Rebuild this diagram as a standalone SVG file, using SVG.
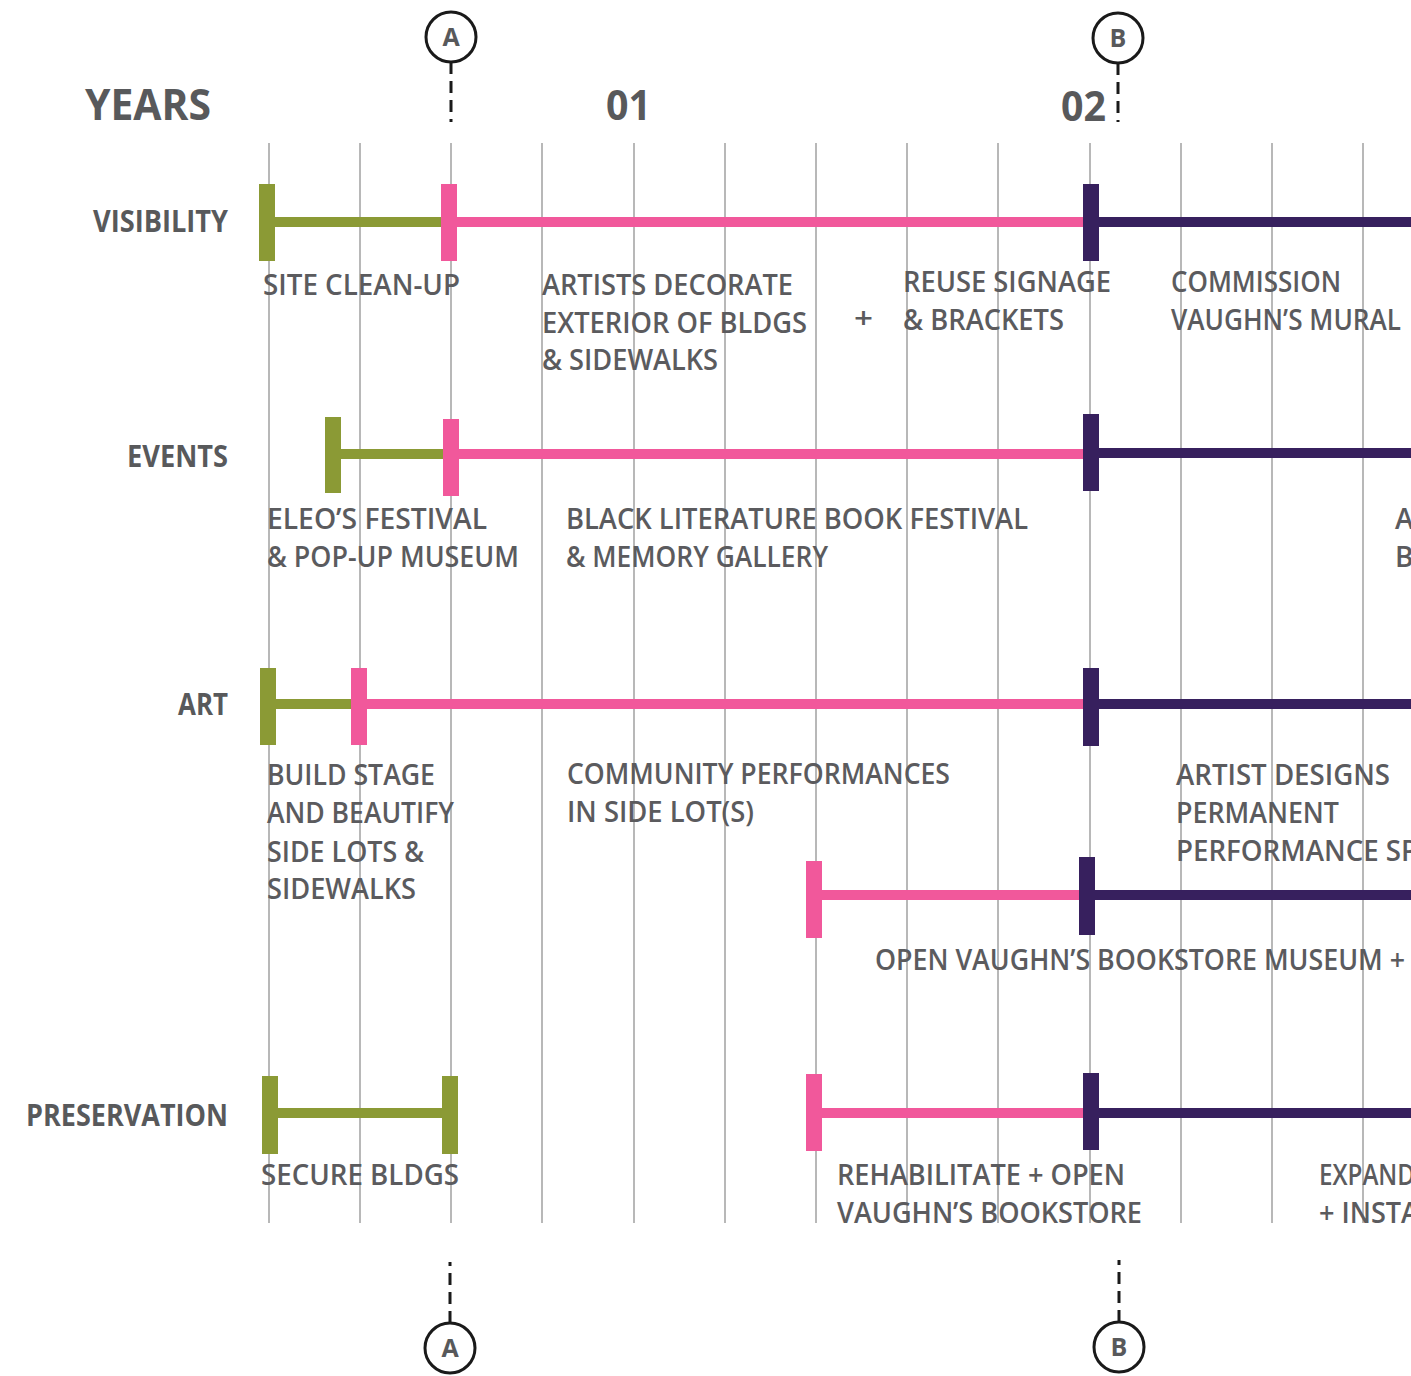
<svg xmlns="http://www.w3.org/2000/svg" width="1411" height="1376" viewBox="0 0 1411 1376">
<style>
  .grid line { stroke: #9a9a9a; stroke-width: 1.4; }
  .hd { font-family: "Open Sans", Lato, "Liberation Sans", sans-serif; font-weight: 700; fill: #58595b; }
  .row { font-family: "Open Sans", Lato, "Liberation Sans", sans-serif; font-weight: 700; font-size: 30px; fill: #58595b; }
  .lbl { font-family: "Open Sans", Lato, "Liberation Sans", sans-serif; font-weight: 600; font-size: 28px; fill: #5b5b5e; }
  .circ { fill: #ffffff; stroke: #1a1a1a; stroke-width: 3; }
  .cl { font-family: "Open Sans", Lato, "Liberation Sans", sans-serif; font-weight: 700; font-size: 25px; fill: #58595b; text-anchor: middle; }
  .dash { stroke: #1a1a1a; stroke-width: 3; stroke-dasharray: 12 7; fill: none; }
  .g { fill: #8b9a35; }
  .p { fill: #f1589b; }
  .v { fill: #37205e; }
</style>
<rect width="1411" height="1376" fill="#ffffff"/>

<g id="grid" class="grid">
  <line x1="269" y1="143" x2="269" y2="1223"/>
  <line x1="360" y1="143" x2="360" y2="1223"/>
  <line x1="451" y1="143" x2="451" y2="1223"/>
  <line x1="542" y1="143" x2="542" y2="1223"/>
  <line x1="634" y1="143" x2="634" y2="1223"/>
  <line x1="725" y1="143" x2="725" y2="1223"/>
  <line x1="816" y1="143" x2="816" y2="1223"/>
  <line x1="907" y1="143" x2="907" y2="1223"/>
  <line x1="998" y1="143" x2="998" y2="1223"/>
  <line x1="1090" y1="143" x2="1090" y2="1223"/>
  <line x1="1181" y1="143" x2="1181" y2="1223"/>
  <line x1="1272" y1="143" x2="1272" y2="1223"/>
  <line x1="1363" y1="143" x2="1363" y2="1223"/>
</g>

<g id="header">
  <text class="hd" x="85" y="120" font-size="43" textLength="126" lengthAdjust="spacingAndGlyphs">YEARS</text>
  <text class="hd" x="606" y="120" font-size="41" textLength="45" lengthAdjust="spacingAndGlyphs">01</text>
  <text class="hd" x="1061" y="121" font-size="41" textLength="45" lengthAdjust="spacingAndGlyphs">02</text>
</g>

<g id="connectors">
  <line class="dash" x1="451" y1="62" x2="451" y2="122"/>
  <line class="dash" x1="1118" y1="63" x2="1118" y2="122"/>
  <line class="dash" x1="450" y1="1323" x2="450" y2="1262"/>
  <line class="dash" x1="1119" y1="1322" x2="1119" y2="1260"/>
</g>

<g id="marker-A-top">
  <circle class="circ" cx="451" cy="37" r="25"/>
  <text class="cl" x="451" y="46">A</text>
</g>
<g id="marker-B-top">
  <circle class="circ" cx="1118" cy="38" r="25"/>
  <text class="cl" x="1118" y="47">B</text>
</g>
<g id="marker-A-bottom">
  <circle class="circ" cx="450" cy="1348" r="25"/>
  <text class="cl" x="450" y="1357">A</text>
</g>
<g id="marker-B-bottom">
  <circle class="circ" cx="1119" cy="1347" r="25"/>
  <text class="cl" x="1119" y="1356">B</text>
</g>

<g id="row-visibility">
  <text class="row" x="228" y="232" text-anchor="end" textLength="135" lengthAdjust="spacingAndGlyphs">VISIBILITY</text>
  <rect class="g" x="267" y="217" width="178" height="10"/>
  <rect class="g" x="259" y="184" width="16" height="77"/>
  <rect class="p" x="449" y="217" width="640" height="10"/>
  <rect class="p" x="441" y="184" width="16" height="77"/>
  <rect class="v" x="1090" y="217" width="321" height="10"/>
  <rect class="v" x="1083" y="184" width="16" height="77"/>
  <text class="lbl" x="263" y="295" textLength="197" lengthAdjust="spacingAndGlyphs">SITE CLEAN-UP</text>
  <text class="lbl" x="542" y="295" textLength="251" lengthAdjust="spacingAndGlyphs">ARTISTS DECORATE</text>
  <text class="lbl" x="542" y="333" textLength="265" lengthAdjust="spacingAndGlyphs">EXTERIOR OF BLDGS</text>
  <text class="lbl" x="542" y="370" textLength="176" lengthAdjust="spacingAndGlyphs">&amp; SIDEWALKS</text>
  <text class="lbl" x="854" y="328" textLength="19" lengthAdjust="spacingAndGlyphs">+</text>
  <text class="lbl" x="903" y="292" textLength="208" lengthAdjust="spacingAndGlyphs">REUSE SIGNAGE</text>
  <text class="lbl" x="903" y="330" textLength="161" lengthAdjust="spacingAndGlyphs">&amp; BRACKETS</text>
  <text class="lbl" x="1171" y="292" textLength="170" lengthAdjust="spacingAndGlyphs">COMMISSION</text>
  <text class="lbl" x="1171" y="330" textLength="230" lengthAdjust="spacingAndGlyphs">VAUGHN’S MURAL</text>
</g>

<g id="row-events">
  <text class="row" x="228" y="467" text-anchor="end" textLength="101" lengthAdjust="spacingAndGlyphs">EVENTS</text>
  <rect class="g" x="333" y="449" width="114" height="10"/>
  <rect class="g" x="325" y="417" width="16" height="76"/>
  <rect class="p" x="451" y="449" width="638" height="10"/>
  <rect class="p" x="443" y="419" width="16" height="77"/>
  <rect class="v" x="1090" y="448" width="321" height="10"/>
  <rect class="v" x="1083" y="414" width="16" height="77"/>
  <text class="lbl" x="267" y="529" textLength="220" lengthAdjust="spacingAndGlyphs">ELEO’S FESTIVAL</text>
  <text class="lbl" x="267" y="567" textLength="252" lengthAdjust="spacingAndGlyphs">&amp; POP-UP MUSEUM</text>
  <text class="lbl" x="566" y="529" textLength="462" lengthAdjust="spacingAndGlyphs">BLACK LITERATURE BOOK FESTIVAL</text>
  <text class="lbl" x="566" y="567" textLength="262" lengthAdjust="spacingAndGlyphs">&amp; MEMORY GALLERY</text>
  <text class="lbl" x="1395" y="529">A</text>
  <text class="lbl" x="1395" y="567">B</text>
</g>

<g id="row-art">
  <text class="row" x="228" y="715" text-anchor="end" textLength="50" lengthAdjust="spacingAndGlyphs">ART</text>
  <rect class="g" x="268" y="699" width="84" height="10"/>
  <rect class="g" x="260" y="668" width="16" height="77"/>
  <rect class="p" x="359" y="699" width="730" height="10"/>
  <rect class="p" x="351" y="668" width="16" height="77"/>
  <rect class="v" x="1090" y="699" width="321" height="10"/>
  <rect class="v" x="1083" y="668" width="16" height="78"/>
  <text class="lbl" x="267" y="785" textLength="168" lengthAdjust="spacingAndGlyphs">BUILD STAGE</text>
  <text class="lbl" x="267" y="823" textLength="187" lengthAdjust="spacingAndGlyphs">AND BEAUTIFY</text>
  <text class="lbl" x="267" y="862" textLength="157" lengthAdjust="spacingAndGlyphs">SIDE LOTS &amp;</text>
  <text class="lbl" x="267" y="899" textLength="149" lengthAdjust="spacingAndGlyphs">SIDEWALKS</text>
  <text class="lbl" x="567" y="784" textLength="383" lengthAdjust="spacingAndGlyphs">COMMUNITY PERFORMANCES</text>
  <text class="lbl" x="567" y="822" textLength="187" lengthAdjust="spacingAndGlyphs">IN SIDE LOT(S)</text>
  <text class="lbl" x="1176" y="785" textLength="214" lengthAdjust="spacingAndGlyphs">ARTIST DESIGNS</text>
  <text class="lbl" x="1176" y="823" textLength="163" lengthAdjust="spacingAndGlyphs">PERMANENT</text>
  <text class="lbl" x="1176" y="861" textLength="242" lengthAdjust="spacingAndGlyphs">PERFORMANCE SP</text>
</g>

<g id="row-art-bookstore">
  <rect class="p" x="814" y="890" width="273" height="10"/>
  <rect class="p" x="806" y="861" width="16" height="77"/>
  <rect class="v" x="1087" y="890" width="324" height="10"/>
  <rect class="v" x="1079" y="857" width="16" height="78"/>
  <text class="lbl" x="875" y="970" textLength="530" lengthAdjust="spacingAndGlyphs">OPEN VAUGHN’S BOOKSTORE MUSEUM +</text>
</g>

<g id="row-preservation">
  <text class="row" x="228" y="1126" text-anchor="end" textLength="202" lengthAdjust="spacingAndGlyphs">PRESERVATION</text>
  <rect class="g" x="270" y="1108" width="180" height="10"/>
  <rect class="g" x="262" y="1076" width="16" height="78"/>
  <rect class="g" x="442" y="1076" width="16" height="78"/>
  <rect class="p" x="814" y="1108" width="273" height="10"/>
  <rect class="p" x="806" y="1074" width="16" height="77"/>
  <rect class="v" x="1090" y="1108" width="321" height="10"/>
  <rect class="v" x="1083" y="1073" width="16" height="77"/>
  <text class="lbl" x="261" y="1185" textLength="198" lengthAdjust="spacingAndGlyphs">SECURE BLDGS</text>
  <text class="lbl" x="837" y="1185" textLength="288" lengthAdjust="spacingAndGlyphs">REHABILITATE + OPEN</text>
  <text class="lbl" x="837" y="1223" textLength="305" lengthAdjust="spacingAndGlyphs">VAUGHN’S BOOKSTORE</text>
  <text class="lbl" x="1319" y="1185" textLength="96" lengthAdjust="spacingAndGlyphs">EXPAND</text>
  <text class="lbl" x="1319" y="1223" textLength="100" lengthAdjust="spacingAndGlyphs">+ INSTA</text>
</g>
</svg>
